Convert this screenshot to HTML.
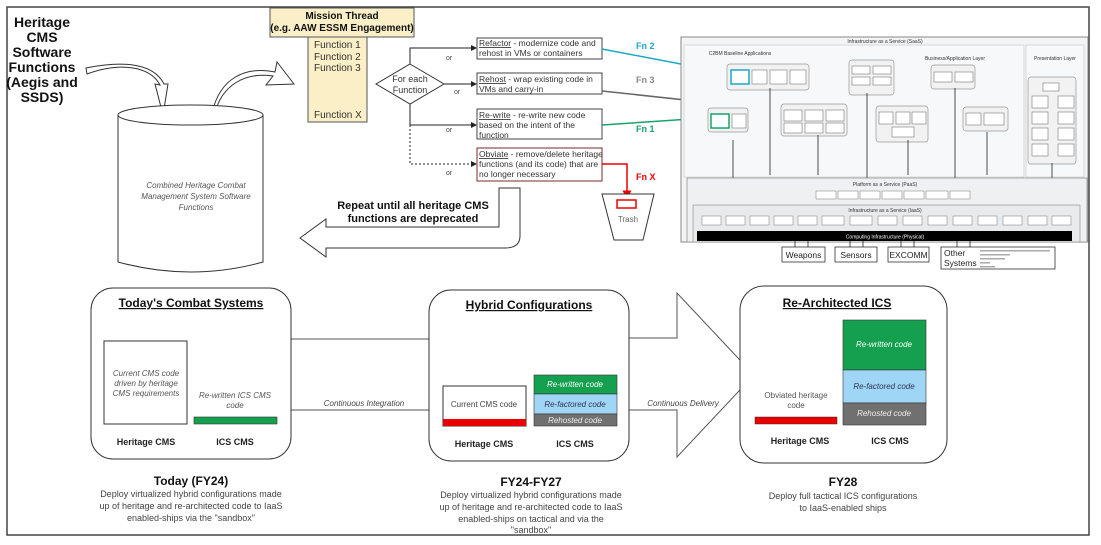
<!DOCTYPE html>
<html><head><meta charset="utf-8"><style>
html,body{margin:0;padding:0;background:#fff;}
svg{display:block;font-family:"Liberation Sans",Arial,sans-serif;}
</style></head><body>
<svg width="1101" height="545" viewBox="0 0 1101 545" xmlns="http://www.w3.org/2000/svg">
<defs>
<marker id="ah" markerWidth="6" markerHeight="6" refX="5" refY="3" orient="auto"><path d="M0,0 L6,3 L0,6z" fill="#222"/></marker>
<marker id="ahr" markerWidth="6" markerHeight="6" refX="5" refY="3" orient="auto"><path d="M0,0 L6,3 L0,6z" fill="#e00"/></marker>
<marker id="aht" markerWidth="6" markerHeight="6" refX="5" refY="3" orient="auto"><path d="M0,0 L6,3 L0,6z" fill="#1aa9c4"/></marker>
<marker id="ahg" markerWidth="6" markerHeight="6" refX="5" refY="3" orient="auto"><path d="M0,0 L6,3 L0,6z" fill="#19a36a"/></marker>
<marker id="ahk" markerWidth="6" markerHeight="6" refX="5" refY="3" orient="auto"><path d="M0,0 L6,3 L0,6z" fill="#666"/></marker>
</defs>
<!-- outer frame -->
<rect x="7" y="7" width="1082" height="528" fill="none" stroke="#444" stroke-width="1.5"/>

<!-- Heritage text -->
<g font-weight="bold" font-size="14" text-anchor="middle" fill="#111">
<text x="42" y="27">Heritage</text><text x="42" y="42">CMS</text><text x="42" y="57">Software</text>
<text x="42" y="72">Functions</text><text x="42" y="87">(Aegis and</text><text x="42" y="102">SSDS)</text>
</g>
<!-- curved arrows -->
<path d="M87,74 C120,62 150,66 160,85 L155,84 L163,115 L168,84 L164,84 C152,60 115,62 86,68 Z" fill="#fff" stroke="#333" stroke-width="1"/>
<path d="M215,113 C222,85 245,72 273,76 L266,85 L294,84 L277,62 L275,72 C245,66 220,78 212,113 Z" fill="#fff" stroke="#333" stroke-width="1"/>
<!-- cylinder -->
<path d="M118,115 L118,262 Q191,282 263,262 L263,115" fill="#fff" stroke="#333" stroke-width="1"/>
<ellipse cx="190.5" cy="115" rx="72.5" ry="10" fill="#fff" stroke="#333" stroke-width="1"/>
<g font-size="8" font-style="italic" fill="#555" text-anchor="middle">
<text x="196" y="188">Combined Heritage Combat</text><text x="196" y="199">Management System Software</text><text x="196" y="210">Functions</text>
</g>
<!-- left big arrow -->
<path d="M300,238 L326,219 L326,227 L499,227 L499,188 L520,188 L520,236 Q520,248 505,248 L326,248 L326,257 Z" fill="#fff" stroke="#333" stroke-width="1"/>
<g font-size="11" font-weight="bold" text-anchor="middle" fill="#111">
<text x="413" y="209">Repeat until all heritage CMS</text><text x="413" y="222">functions are deprecated</text>
</g>

<!-- mission thread -->
<rect x="270" y="8" width="144" height="29" fill="#fbefc7" stroke="#555" stroke-width="1"/>
<g font-size="10" font-weight="bold" text-anchor="middle" fill="#111">
<text x="342" y="19">Mission Thread</text><text x="342" y="31">(e.g. AAW ESSM Engagement)</text>
</g>
<rect x="308" y="37" width="59" height="85" fill="#fbefc7" stroke="#555" stroke-width="1"/>
<g font-size="10" fill="#333"><text x="314" y="48">Function 1</text><text x="314" y="60">Function 2</text><text x="314" y="71">Function 3</text><text x="314" y="118">Function X</text></g>
<!-- diamond -->
<path d="M410,64 L444,84 L410,104 L376,84 Z" fill="#fff" stroke="#333"/>
<text x="410" y="82" font-size="9" text-anchor="middle" fill="#333">For each</text>
<text x="410" y="93" font-size="9" text-anchor="middle" fill="#333">Function</text>
<g stroke="#222" fill="none" stroke-width="1">
<path d="M410,64 L410,48 L476,48" marker-end="url(#ah)"/>
<path d="M444,84 L476,84" marker-end="url(#ah)"/>
<path d="M410,104 L410,125 L476,125" marker-end="url(#ah)"/>
<path d="M410,125 L410,164 L476,164" stroke-dasharray="2,2" marker-end="url(#ah)"/>
</g>
<g font-size="7" fill="#444"><text x="446" y="60">or</text><text x="454" y="94">or</text><text x="446" y="132">or</text><text x="446" y="175">or</text></g>
<!-- option boxes -->
<g fill="#fff" stroke="#444" stroke-width="1">
<rect x="477" y="38" width="125" height="21"/><rect x="477" y="73" width="125" height="21"/>
<rect x="477" y="109" width="125" height="30"/><rect x="477" y="148" width="125" height="33" stroke="#7a2a2a"/>
</g>
<g font-size="8.5" fill="#333">
<text x="479" y="46"><tspan text-decoration="underline">Refactor</tspan> - modernize code and</text><text x="479" y="56">rehost in VMs or containers</text>
<text x="479" y="82"><tspan text-decoration="underline">Rehost</tspan> - wrap existing code in</text><text x="479" y="92">VMs and carry-in</text>
<text x="479" y="118"><tspan text-decoration="underline">Re-write</tspan> - re-write new code</text><text x="479" y="128">based on the intent of the</text><text x="479" y="138">function</text>
<text x="479" y="157"><tspan text-decoration="underline">Obviate</tspan> - remove/delete heritage</text><text x="479" y="167">functions (and its code) that are</text><text x="479" y="177">no longer necessary</text>
</g>
<g font-size="9" font-weight="bold">
<text x="636" y="49" fill="#1aa9c4">Fn 2</text><text x="636" y="83" fill="#888">Fn 3</text>
<text x="636" y="132" fill="#19a36a">Fn 1</text><text x="636" y="180" fill="#e00">Fn X</text>
</g>
<path d="M602,49 L733,74" stroke="#1aa9c4" stroke-width="1.5" fill="none" marker-end="url(#aht)"/>
<path d="M602,91 L778,110" stroke="#666" stroke-width="1.5" fill="none" marker-end="url(#ahk)"/>
<path d="M602,125 L705,118" stroke="#19a36a" stroke-width="1.5" fill="none" marker-end="url(#ahg)"/>
<path d="M602,164 L627,164 L627,198" stroke="#e00" stroke-width="1.5" fill="none" marker-end="url(#ahr)"/>
<!-- trash -->
<path d="M602,194 L654,194 L643,240 L614,240 Z" fill="#fff" stroke="#333"/>
<rect x="617" y="200" width="19" height="8" fill="none" stroke="#e00" stroke-width="1.5"/>
<text x="628" y="222" font-size="8" text-anchor="middle" fill="#666">Trash</text>

<!-- architecture image -->
<rect x="681" y="37" width="407" height="205" fill="#f3f4f5" stroke="#888" stroke-width="1"/>
<rect x="684" y="45" width="340" height="132" fill="#f7f8f9" stroke="#ccc" stroke-width="0.7"/>
<rect x="1026" y="45" width="58" height="132" fill="#f7f8f9" stroke="#ccc" stroke-width="0.7"/>
<g font-size="5" fill="#333" text-anchor="middle"><text x="885" y="43">Infrastructure as a Service (SaaS)</text><text x="740" y="55">C2BM Baseline Applications</text><text x="955" y="60">Business/Application Layer</text><text x="1055" y="60">Presentation Layer</text></g>
<g fill="#f2f2f2" stroke="#999" stroke-width="0.7">
<rect x="727" y="64" width="82" height="26" rx="3"/><rect x="849" y="60" width="45" height="35" rx="3"/>
<rect x="931" y="65" width="44" height="24" rx="3"/><rect x="1028" y="77" width="48" height="87" rx="3"/>
<rect x="708" y="108" width="40" height="24" rx="3"/><rect x="781" y="104" width="66" height="32" rx="3"/>
<rect x="876" y="106" width="52" height="36" rx="3"/><rect x="963" y="107" width="45" height="24" rx="3"/>
</g>
<g fill="#fff" stroke="#777" stroke-width="0.6">
<rect x="731" y="70" width="18" height="14"/><rect x="752" y="70" width="15" height="14"/><rect x="770" y="70" width="17" height="14"/><rect x="790" y="70" width="16" height="14"/>
<rect x="852" y="66" width="18" height="8"/><rect x="873" y="66" width="18" height="8"/><rect x="852" y="77" width="18" height="8"/><rect x="873" y="77" width="18" height="8"/>
<rect x="934" y="72" width="18" height="10"/><rect x="955" y="72" width="18" height="10"/>
<rect x="711" y="114" width="18" height="14"/><rect x="732" y="114" width="14" height="14"/>
<rect x="784" y="110" width="18" height="11"/><rect x="805" y="110" width="18" height="11"/><rect x="826" y="110" width="18" height="11"/>
<rect x="784" y="123" width="18" height="10"/><rect x="805" y="123" width="18" height="10"/><rect x="826" y="123" width="18" height="10"/>
<rect x="879" y="112" width="14" height="12"/><rect x="896" y="112" width="14" height="12"/><rect x="912" y="112" width="14" height="12"/><rect x="892" y="127" width="22" height="10"/>
<rect x="966" y="113" width="15" height="12"/><rect x="984" y="113" width="20" height="12"/>
<rect x="1043" y="83" width="16" height="8"/><rect x="1032" y="96" width="16" height="12"/><rect x="1058" y="96" width="16" height="12"/>
<rect x="1032" y="112" width="16" height="12"/><rect x="1058" y="112" width="16" height="12"/><rect x="1032" y="128" width="16" height="12"/><rect x="1058" y="128" width="16" height="12"/><rect x="1032" y="144" width="16" height="12"/><rect x="1058" y="144" width="16" height="12"/>
</g>
<rect x="731" y="70" width="18" height="14" fill="none" stroke="#1aa9c4" stroke-width="1.5"/>
<rect x="711" y="114" width="18" height="14" fill="none" stroke="#19a36a" stroke-width="1.5"/>
<g stroke="#222" stroke-width="0.8">
<line x1="733" y1="140" x2="733" y2="178"/><line x1="770" y1="88" x2="770" y2="175"/><line x1="818" y1="135" x2="818" y2="175"/><line x1="867" y1="93" x2="867" y2="178"/><line x1="908" y1="140" x2="908" y2="175"/><line x1="955" y1="88" x2="955" y2="178"/><line x1="987" y1="132" x2="987" y2="175"/><line x1="1052" y1="163" x2="1052" y2="178"/>
</g>
<rect x="687" y="178" width="400" height="64" fill="#eef0f2" stroke="#888" stroke-width="0.7"/>
<text x="885" y="186" font-size="5" text-anchor="middle" fill="#333">Platform as a Service (PaaS)</text>
<g fill="#fff" stroke="#777" stroke-width="0.5">
<rect x="816" y="191" width="20" height="8"/><rect x="838" y="191" width="20" height="8"/><rect x="860" y="191" width="20" height="8"/><rect x="882" y="191" width="20" height="8"/><rect x="904" y="191" width="20" height="8"/><rect x="926" y="191" width="22" height="8"/><rect x="950" y="191" width="20" height="8"/>
</g>
<rect x="693" y="205" width="387" height="37" fill="#e8eaec" stroke="#888" stroke-width="0.6"/>
<text x="885" y="212" font-size="5" text-anchor="middle" fill="#333">Infrastructure as a Service (IaaS)</text>
<g fill="#fff" stroke="#777" stroke-width="0.5">
<rect x="702" y="216" width="19" height="9"/><rect x="726" y="216" width="19" height="9"/><rect x="750" y="216" width="19" height="9"/><rect x="774" y="216" width="19" height="9"/><rect x="798" y="216" width="19" height="9"/><rect x="822" y="216" width="22" height="9"/><rect x="850" y="216" width="22" height="9"/><rect x="878" y="216" width="19" height="9"/><rect x="903" y="216" width="19" height="9"/><rect x="928" y="216" width="19" height="9"/><rect x="953" y="216" width="19" height="9"/><rect x="978" y="216" width="19" height="9"/><rect x="1003" y="216" width="19" height="9"/><rect x="1028" y="216" width="19" height="9"/><rect x="1052" y="216" width="19" height="9"/>
</g>
<rect x="697" y="231" width="375" height="10" fill="#000"/>
<text x="885" y="238.5" font-size="5" text-anchor="middle" fill="#fff">Computing Infrastructure (Physical)</text>
<g stroke="#222" stroke-width="0.8">
<line x1="795" y1="241" x2="795" y2="247"/><line x1="808" y1="241" x2="808" y2="247"/><line x1="850" y1="241" x2="850" y2="247"/><line x1="863" y1="241" x2="863" y2="247"/><line x1="901" y1="241" x2="901" y2="247"/><line x1="914" y1="241" x2="914" y2="247"/><line x1="957" y1="241" x2="957" y2="247"/><line x1="970" y1="241" x2="970" y2="247"/>
</g>
<g fill="#fff" stroke="#333" stroke-width="0.8">
<rect x="782" y="247" width="43" height="15"/><rect x="835" y="247" width="42" height="15"/><rect x="888" y="247" width="41" height="15"/><rect x="941" y="247" width="114" height="22"/>
</g>
<g font-size="8.5" fill="#222" text-anchor="middle"><text x="803.5" y="258">Weapons</text><text x="856" y="258">Sensors</text><text x="908.5" y="258">EXCOMM</text></g>
<text x="944" y="256" font-size="8.5" fill="#222">Other</text><text x="944" y="266" font-size="8.5" fill="#222">Systems</text>
<g fill="#aaa"><rect x="980" y="250" width="70" height="1.5"/><rect x="980" y="254" width="30" height="1.5"/><rect x="980" y="258" width="25" height="1.5"/><rect x="980" y="262" width="10" height="1.5"/><rect x="980" y="266" width="15" height="1.5"/></g>

<!-- bottom: connector band -->
<path d="M291,339 L430,339 M291,410 L430,410" stroke="#555" fill="none"/>
<text x="364" y="406" font-size="8" font-style="italic" fill="#444" text-anchor="middle">Continuous Integration</text>
<!-- big arrow -->
<path d="M629,338 L677,338 L677,293 L754,375 L677,457 L677,410 L629,410" fill="#fff" stroke="#555"/>
<text x="683" y="406" font-size="8" font-style="italic" fill="#444" text-anchor="middle">Continuous Delivery</text>

<!-- Today box -->
<rect x="91" y="288" width="200" height="171" rx="22" fill="#fff" stroke="#333"/>
<text x="191" y="307" font-size="12" font-weight="bold" text-anchor="middle" text-decoration="underline" fill="#111">Today's Combat Systems</text>
<rect x="104" y="341" width="83" height="83" fill="#fff" stroke="#333"/>
<g font-size="8" font-style="italic" fill="#555" text-anchor="middle"><text x="146" y="376">Current CMS code</text><text x="146" y="386">driven by heritage</text><text x="146" y="396">CMS requirements</text>
<text x="235" y="398">Re-written ICS CMS</text><text x="235" y="408">code</text></g>
<rect x="194" y="417" width="83" height="7" fill="#14a04e" stroke="#333" stroke-width="0.6"/>
<g font-size="9" font-weight="bold" fill="#222" text-anchor="middle"><text x="146" y="445">Heritage CMS</text><text x="235" y="445">ICS CMS</text></g>
<text x="191" y="485" font-size="12" font-weight="bold" text-anchor="middle" fill="#111">Today (FY24)</text>
<g font-size="9" fill="#444" text-anchor="middle"><text x="191" y="497">Deploy virtualized hybrid configurations made</text><text x="191" y="509">up of heritage and re-architected code to IaaS</text><text x="191" y="521">enabled-ships via the "sandbox"</text></g>

<!-- Hybrid box -->
<rect x="429" y="290" width="200" height="171" rx="22" fill="#fff" stroke="#333"/>
<text x="529" y="309" font-size="12" font-weight="bold" text-anchor="middle" text-decoration="underline" fill="#111">Hybrid Configurations</text>
<rect x="443" y="386" width="83" height="40" fill="#fff" stroke="#333"/>
<rect x="443" y="419" width="83" height="7" fill="#e80000"/>
<text x="484" y="407" font-size="8" fill="#444" text-anchor="middle">Current CMS code</text>
<rect x="534" y="375" width="83" height="19" fill="#14a04e" stroke="#333" stroke-width="0.6"/>
<rect x="534" y="394" width="83" height="20" fill="#9fd6f5" stroke="#333" stroke-width="0.6"/>
<rect x="534" y="414" width="83" height="12" fill="#707070" stroke="#333" stroke-width="0.6"/>
<g font-size="8" font-style="italic" text-anchor="middle"><text x="575" y="387" fill="#fff">Re-written code</text><text x="575" y="407" fill="#335">Re-factored code</text><text x="575" y="423" fill="#eee">Rehosted code</text></g>
<g font-size="9" font-weight="bold" fill="#222" text-anchor="middle"><text x="484" y="447">Heritage CMS</text><text x="575" y="447">ICS CMS</text></g>
<text x="531" y="486" font-size="12" font-weight="bold" text-anchor="middle" fill="#111">FY24-FY27</text>
<g font-size="9" fill="#444" text-anchor="middle"><text x="531" y="498">Deploy virtualized hybrid configurations made</text><text x="531" y="510">up of heritage and re-architected code to IaaS</text><text x="531" y="522">enabled-ships on tactical and via the</text><text x="531" y="533">"sandbox"</text></g>

<!-- Re-arch box -->
<rect x="740" y="286" width="207" height="177" rx="24" fill="#fff" stroke="#333"/>
<text x="837" y="307" font-size="12" font-weight="bold" text-anchor="middle" text-decoration="underline" fill="#111">Re-Architected ICS</text>
<rect x="755" y="417" width="82" height="7" fill="#e80000" stroke="#333" stroke-width="0.5"/>
<g font-size="8" fill="#555" text-anchor="middle"><text x="796" y="398">Obviated heritage</text><text x="796" y="408">code</text></g>
<rect x="843" y="320" width="83" height="50" fill="#14a04e" stroke="#333" stroke-width="0.6"/>
<rect x="843" y="370" width="83" height="33" fill="#9fd6f5" stroke="#333" stroke-width="0.6"/>
<rect x="843" y="403" width="83" height="22" fill="#707070" stroke="#333" stroke-width="0.6"/>
<g font-size="8" font-style="italic" text-anchor="middle"><text x="884" y="347" fill="#fff">Re-written code</text><text x="884" y="389" fill="#335">Re-factored code</text><text x="884" y="416" fill="#eee">Rehosted code</text></g>
<g font-size="9" font-weight="bold" fill="#222" text-anchor="middle"><text x="800" y="444">Heritage CMS</text><text x="890" y="444">ICS CMS</text></g>
<text x="843" y="486" font-size="12" font-weight="bold" text-anchor="middle" fill="#111">FY28</text>
<g font-size="9" fill="#444" text-anchor="middle"><text x="843" y="499">Deploy full tactical ICS configurations</text><text x="843" y="511">to IaaS-enabled ships</text></g>
</svg>
</body></html>
